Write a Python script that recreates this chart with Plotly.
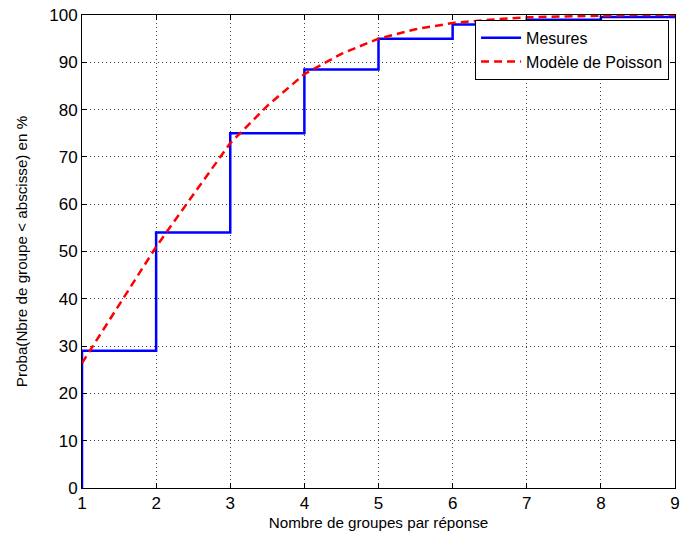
import plotly.graph_objects as go

# Measured step data (Mesures)
mes_x = [1, 1, 2, 3, 4, 5, 6, 7, 8, 9]
mes_y = [0, 29.0, 54.0, 75.0, 88.5, 95.0, 98.0, 99.0, 99.6, 99.6]

# Poisson model curve
poi_x = [1, 1.5, 2, 2.5, 3, 3.5, 4, 4.5, 5, 5.5, 6, 6.5, 7, 7.5, 8, 8.5, 9]
poi_y = [26.4, 38.7, 51.0, 62.0, 72.9, 80.8, 87.5, 91.8, 95.0, 97.0, 98.3, 99.0,
         99.5, 99.7, 99.9, 100.0, 100.0]

x_ticks = [1, 2, 3, 4, 5, 6, 7, 8, 9]
y_ticks = [0, 10, 20, 30, 40, 50, 60, 70, 80, 90, 100]

FONT = "Liberation Sans, Arial, Helvetica, sans-serif"

fig = go.Figure()
fig.add_trace(go.Scatter(x=mes_x, y=mes_y, mode="lines", name="Mesures",
                         line=dict(color="#0000ff", width=2.5, shape="hv")))
fig.add_trace(go.Scatter(x=poi_x, y=poi_y, mode="lines", name="Modèle de Poisson",
                         line=dict(color="#ff0000", width=2.5, dash="8px,5px")))

axis_common = dict(showline=True, linecolor="black", linewidth=1, mirror="ticks",
                   ticks="inside", ticklen=5, tickcolor="black",
                   showgrid=True, gridcolor="#444444", griddash="1px,3px", gridwidth=1,
                   zeroline=False, automargin=False,
                   tickfont=dict(family=FONT, size=17, color="black"))

fig.update_xaxes(range=[1, 9], tickvals=x_ticks,
                 title=dict(text="Nombre de groupes par réponse", standoff=4,
                            font=dict(family=FONT, size=15.2, color="black")),
                 **axis_common)
fig.update_yaxes(range=[0, 100], tickvals=y_ticks, ticklabelstandoff=0,
                 title=dict(text="Proba(Nbre de groupe < abscisse) en %", standoff=17,
                            font=dict(family=FONT, size=15.2, color="black")),
                 **axis_common)

fig.update_layout(
    width=685, height=536,
    margin=dict(l=82, r=10, t=15, b=48),
    paper_bgcolor="white", plot_bgcolor="white",
    font=dict(family=FONT, size=15, color="black"),
    legend=dict(x=0.99, y=0.99, xanchor="right", yanchor="top",
                bgcolor="white", bordercolor="black", borderwidth=1,
                font=dict(family=FONT, size=16, color="black"),
                tracegroupgap=0, itemwidth=40),
    showlegend=True,
)

fig.write_html("out.html",
               config={"displayModeBar": False},
               post_script="document.body.style.margin='0';document.body.style.overflow='hidden';")
